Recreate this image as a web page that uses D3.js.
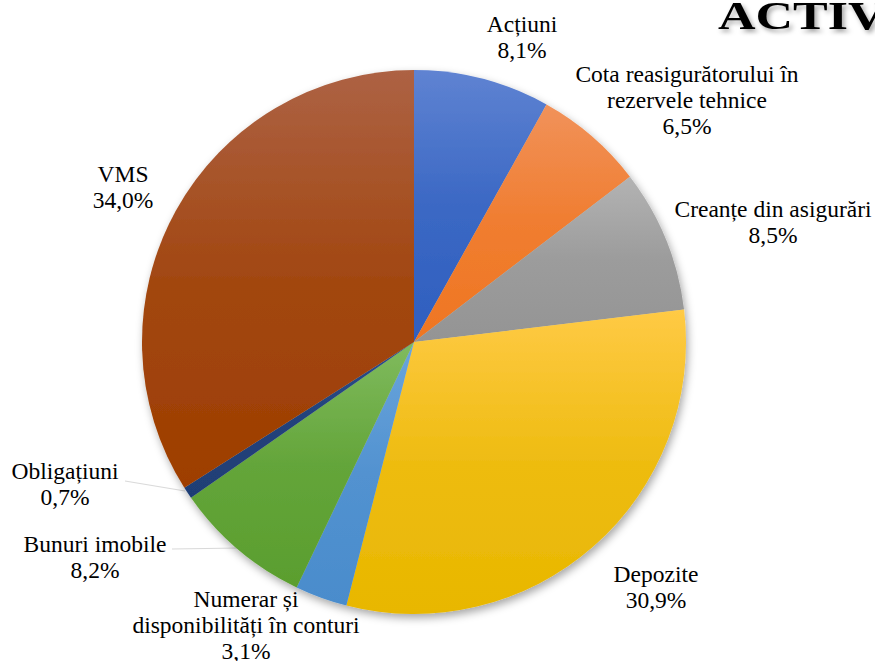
<!DOCTYPE html>
<html>
<head>
<meta charset="utf-8">
<script src="https://cdn.jsdelivr.net/npm/d3@7"></script>
<style>
  body { margin: 0; background: #fff; }
</style>
</head>
<body>
<svg width="875" height="661"></svg>
<script>
const categories = ["Acțiuni", "Cota reasigurătorului în rezervele tehnice", "Creanțe din asigurări", "Depozite",
  "Numerar și disponibilități în conturi", "Bunuri imobile", "Obligațiuni", "VMS"];
const values = [8.1, 6.5, 8.5, 30.9, 3.1, 8.2, 0.7, 34.0];
const labelLines = [
  ["Acțiuni"], ["Cota reasigurătorului în", "rezervele tehnice"], ["Creanțe din asigurări"], ["Depozite"],
  ["Numerar și", "disponibilități în conturi"], ["Bunuri imobile"], ["Obligațiuni"], ["VMS"]
];
const topColors = ["#5f83d2", "#f1925a", "#b3b3b3", "#ffca45", "#6aa5dc", "#80bb5e", "#2c4f8c", "#ad6244"];
const bottomColors = ["#2f5fbf", "#ef7622", "#949494", "#e8b700", "#4a8ccc", "#5a9e2e", "#1f3e75", "#9e3e00"];
// label anchor (centre of block), first line baseline
const labelPos = [[522, 32], [687, 82], [773, 217], [656, 582], [246, 607], [95, 552], [65, 479], [123, 182]];
const leaders = [[[125, 481], [185, 491]], [[172, 549], [240, 548]]];

const FONT = "'Liberation Serif', 'DejaVu Serif', serif";
const svg = d3.select("svg");
const cx = 414, cy = 342, r = 272;

const defs = svg.append("defs");
const f = defs.append("filter").attr("id", "shadow").attr("x", "-20%").attr("y", "-20%").attr("width", "140%").attr("height", "140%");
f.append("feDropShadow").attr("dx", 2).attr("dy", 4).attr("stdDeviation", 4)
  .attr("flood-color", "#000").attr("flood-opacity", 0.35);
const tf = defs.append("filter").attr("id", "tshadow");
tf.append("feDropShadow").attr("dx", 2).attr("dy", 3).attr("stdDeviation", 2)
  .attr("flood-color", "#000").attr("flood-opacity", 0.35);

values.forEach((v, i) => {
  const g = defs.append("linearGradient").attr("id", "g" + i)
    .attr("x1", 0).attr("y1", 0).attr("x2", 0).attr("y2", 1);
  g.append("stop").attr("offset", "0%").attr("stop-color", topColors[i]);
  g.append("stop").attr("offset", "50%").attr("stop-color", d3.interpolateRgb(topColors[i], bottomColors[i])(0.75));
  g.append("stop").attr("offset", "100%").attr("stop-color", bottomColors[i]);
});

const pie = d3.pie().sort(null).value(d => d);
const arc = d3.arc().innerRadius(0).outerRadius(r);

svg.append("g").selectAll("line")
  .data(leaders)
  .enter()
  .append("line")
  .attr("x1", d => d[0][0]).attr("y1", d => d[0][1])
  .attr("x2", d => d[1][0]).attr("y2", d => d[1][1])
  .attr("stroke", "#d9d9d9").attr("stroke-width", 1);

const pg = svg.append("g").attr("transform", `translate(${cx},${cy})`).attr("filter", "url(#shadow)");
pg.selectAll("path")
  .data(pie(values))
  .enter()
  .append("path")
  .attr("d", arc)
  .attr("fill", (d, i) => `url(#g${i})`);

const lg = svg.append("g");
values.forEach((v, i) => {
  const t = lg.append("text")
    .attr("x", labelPos[i][0]).attr("y", labelPos[i][1])
    .attr("text-anchor", "middle")
    .attr("font-family", FONT)
    .attr("font-size", "23.5px").attr("fill", "#000");
  const lines = labelLines[i].concat([v.toFixed(1).replace(".", ",") + "%"]);
  lines.forEach((l, j) => {
    t.append("tspan").attr("x", labelPos[i][0]).attr("dy", j === 0 ? 0 : 26).text(l);
  });
});

// slide title, cut off by the right edge as in the source
svg.append("text")
  .attr("transform", "translate(718,29) scale(1.3,1)")
  .attr("font-family", FONT)
  .attr("font-size", "40px").attr("font-weight", "bold")
  .attr("filter", "url(#tshadow)")
  .text("ACTIVE");
</script>
</body>
</html>
